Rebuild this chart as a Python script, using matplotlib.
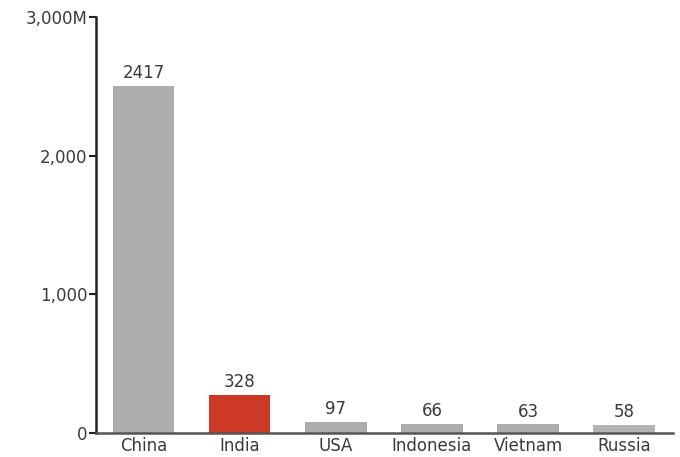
import matplotlib
matplotlib.use("Agg")
import matplotlib.pyplot as plt

countries = ["China", "India", "USA", "Indonesia", "Vietnam", "Russia"]
# value labels printed above the bars
labels = [2417, 328, 97, 66, 63, 58]
# bar heights as drawn in the picture (millions)
heights = [2505, 275, 82, 68, 62, 60]
colors = ["#adadad", "#cc3a27", "#adadad", "#adadad", "#adadad", "#b4b4b4"]
yticks = [0, 1000, 2000, 3000]
ytick_labels = ["0", "1,000", "2,000", "3,000M"]

plt.rcParams["font.family"] = ["DejaVu Sans"]

fig = plt.figure(figsize=(6.8, 4.57), dpi=100)
ax = fig.add_axes([0.141, 0.0525, 0.849, 0.9105])

x = range(len(countries))
ax.bar(x, heights, width=0.64, color=colors)
for xi, h, lab in zip(x, heights, labels):
    ax.text(xi, h + 25, str(lab), ha="center", va="bottom", fontsize=12, color="#3a3a3a")

ax.set_xlim(-0.495, 5.51)
ax.set_ylim(0, 3000)
ax.set_xticks(list(x))
ax.set_xticklabels(countries, fontsize=12, color="#3a3a3a")
ax.set_yticks(yticks)
ax.set_yticklabels(ytick_labels, fontsize=12, color="#3a3a3a")
ax.tick_params(axis="x", length=0, pad=3)
ax.tick_params(axis="y", length=5, width=1.5, color="#222222", pad=1)
for s in ["top", "right"]:
    ax.spines[s].set_visible(False)
ax.spines["left"].set_linewidth(1.8)
ax.spines["left"].set_color("#222222")
ax.spines["bottom"].set_linewidth(1.8)
ax.spines["bottom"].set_color("#555555")

fig.savefig("out.png", dpi=100)
